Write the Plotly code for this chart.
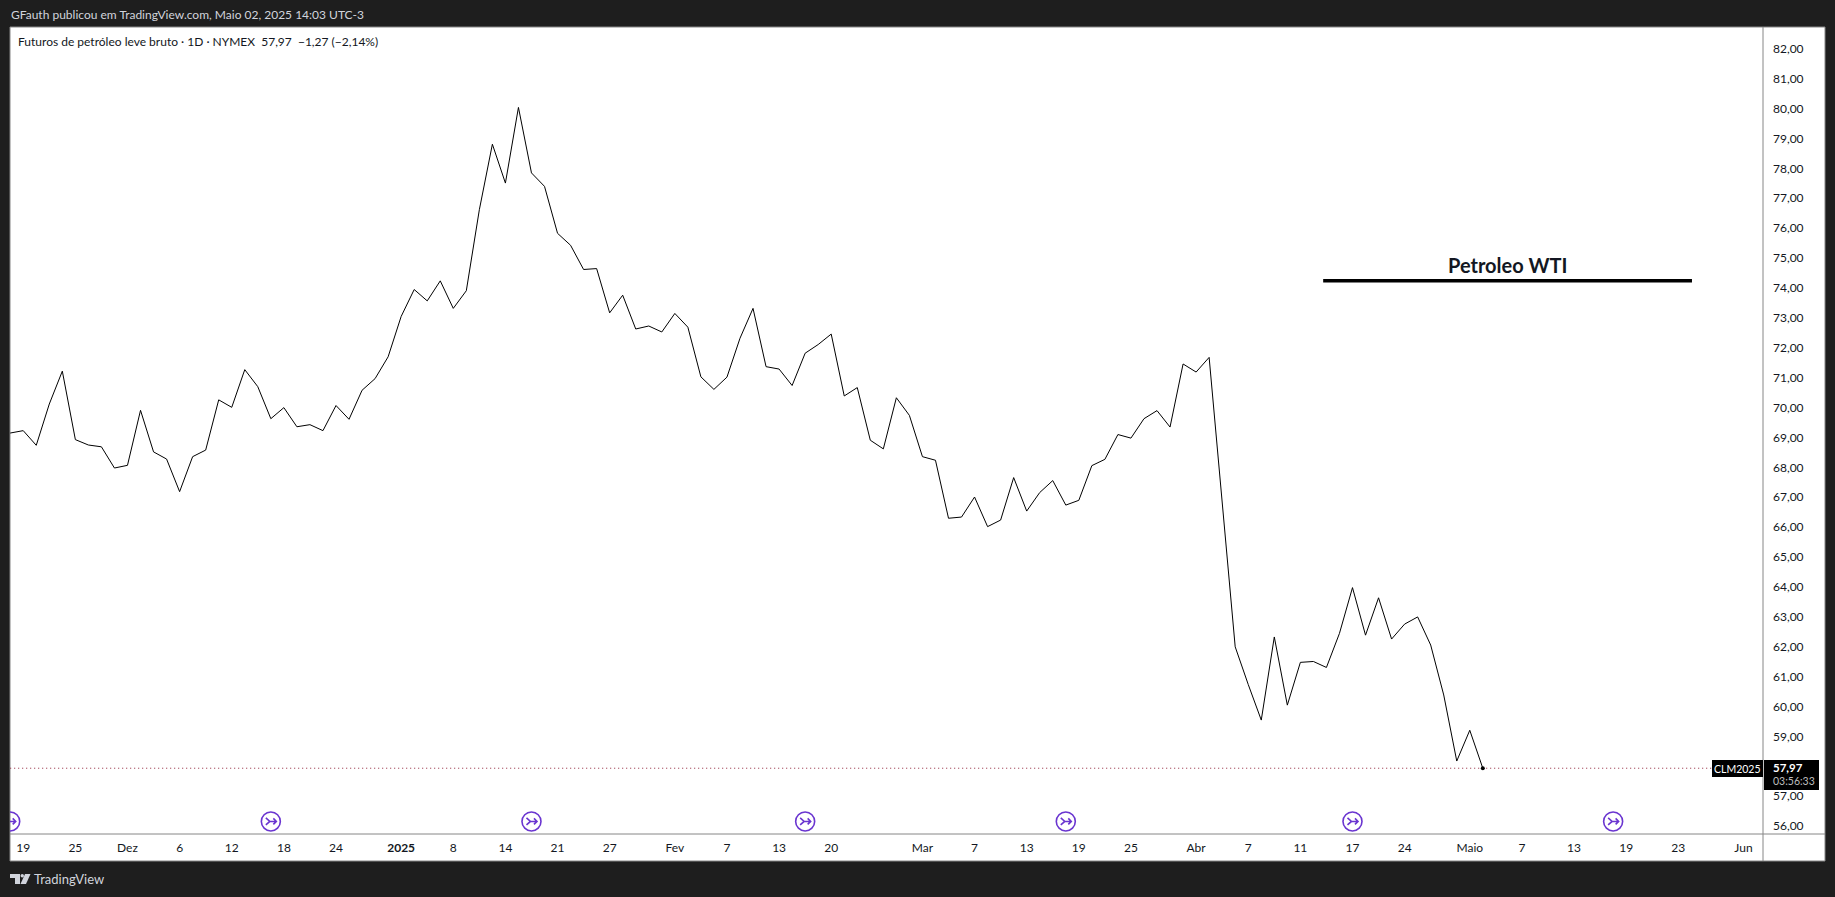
import plotly.graph_objects as go

# ---- data -------------------------------------------------------------
close_prices = [
    69.18, 69.26, 68.77, 70.15, 71.25, 68.96, 68.78, 68.72, 68.01, 68.10,
    69.94, 68.55, 68.31, 67.22, 68.39, 68.61, 70.29, 70.04, 71.30, 70.73,
    69.66, 70.03, 69.39, 69.46, 69.26, 70.10, 69.64, 70.61, 71.00, 71.73,
    73.08, 73.98, 73.60, 74.27, 73.35, 73.94, 76.65, 78.84, 77.54, 80.07,
    77.88, 77.43, 75.86, 75.46, 74.65, 74.68, 73.20, 73.79, 72.66, 72.76,
    72.56, 73.18, 72.72, 71.06, 70.64, 71.05, 72.35, 73.35, 71.40, 71.32,
    70.77, 71.85, 72.14, 72.49, 70.42, 70.70, 68.94, 68.65, 70.36, 69.77,
    68.39, 68.27, 66.33, 66.37, 67.04, 66.05, 66.27, 67.69, 66.57, 67.19,
    67.59, 66.77, 66.93, 68.09, 68.30, 69.13, 69.01, 69.66, 69.93, 69.38,
    71.49, 71.22, 71.71, 66.94, 62.03, 60.77, 59.58, 62.36, 60.08, 61.51,
    61.54, 61.34, 62.48, 64.01, 62.42, 63.67, 62.29, 62.79, 63.03, 62.09,
    60.42, 58.21, 59.24, 57.97,
]
bar_index = list(range(len(close_prices)))
last_price = 57.97

x_tick_bars = [1, 5, 9, 13, 17, 21, 25, 30, 34, 38, 42, 46, 51, 55, 59, 63, 70, 74,
               78, 82, 86, 91, 95, 99, 103, 107, 112, 116, 120, 124, 128, 133]
x_tick_labels = ["19", "25", "Dez", "6", "12", "18", "24", "<b>2025</b>", "8", "14",
                 "21", "27", "Fev", "7", "13", "20", "Mar", "7", "13", "19", "25",
                 "Abr", "7", "11", "17", "24", "Maio", "7", "13", "19", "23", "Jun"]
y_ticks = list(range(56, 83))

rollover_bars = [0, 20, 40, 61, 81, 103, 123]
rollover_level = 56.19

note_text = "Petroleo WTI"
note_line_bars = [100.75, 129.05]
note_line_level = 74.27
note_text_bar = 114.9
note_text_level = 74.8

header = "GFauth publicou em TradingView.com, Maio 02, 2025 14:03 UTC-3"
legend = "Futuros de petróleo leve bruto · 1D · NYMEX  57,97  −1,27 (−2,14%)"

# ---- style ------------------------------------------------------------
FONT = "Lato"
DARK = "#1e1e1e"
GRID = "#868686"
PURPLE = "#6a35d0"
W, H = 1835, 897
L, R, T, B = 10, 1825, 27, 861      # panel
AX, AY = 1763, 834                  # axis lines


def px(x):
    return (x - L) / (R - L)


def py(y):
    return 1 - (y - T) / (B - T)


fig = go.Figure()
fig.add_trace(go.Scatter(x=[bar_index[0], 134.5], y=[last_price, last_price], mode="lines",
                         line=dict(color="#8f2038", width=1, dash="1px 3px"),
                         hoverinfo="skip", showlegend=False))
fig.add_trace(go.Scatter(x=bar_index, y=close_prices, mode="lines",
                         line=dict(color="#000000", width=1), showlegend=False))
fig.add_trace(go.Scatter(x=[bar_index[-1]], y=[close_prices[-1]], mode="markers",
                         marker=dict(color="#000000", size=4), showlegend=False))
fig.add_trace(go.Scatter(x=note_line_bars, y=[note_line_level, note_line_level], mode="lines",
                         line=dict(color="#000000", width=3.5), showlegend=False))

shapes = [
    dict(type="rect", xref="paper", yref="paper", x0=0, x1=1, y0=0, y1=1,
         fillcolor="#ffffff", line=dict(color=GRID, width=1), layer="below"),
    dict(type="line", xref="paper", yref="paper", x0=px(AX), x1=px(AX), y0=0, y1=1,
         line=dict(color=GRID, width=1)),
    dict(type="line", xref="paper", yref="paper", x0=0, x1=1, y0=py(AY), y1=py(AY),
         line=dict(color=GRID, width=1)),
    dict(type="rect", xref="paper", yref="paper", x0=px(1712), x1=px(1763), y0=py(777), y1=py(760),
         fillcolor="#000000", line=dict(width=0)),
    dict(type="rect", xref="paper", yref="paper", x0=px(1764), x1=px(1819), y0=py(790), y1=py(760),
         fillcolor="#000000", line=dict(width=0)),
    # TradingView logo
    dict(type="path", xref="paper", yref="paper",
         path=(f"M {px(10)} {py(874)} L {px(20)} {py(874)} L {px(20)} {py(884)} L {px(15)} {py(884)} "
               f"L {px(15)} {py(878)} L {px(10)} {py(878)} Z"),
         fillcolor="#d1d4dc", line=dict(width=0)),
    dict(type="circle", xref="paper", yref="paper", x0=px(20.5), x1=px(24), y0=py(877.5), y1=py(874),
         fillcolor="#d1d4dc", line=dict(width=0)),
    dict(type="path", xref="paper", yref="paper",
         path=(f"M {px(25)} {py(874)} L {px(30.5)} {py(874)} L {px(26)} {py(884)} L {px(20.5)} {py(884)} Z"),
         fillcolor="#d1d4dc", line=dict(width=0)),
]
for b in rollover_bars:
    common = dict(xref="x", yref="y", xsizemode="pixel", ysizemode="pixel",
                  xanchor=b, yanchor=rollover_level)
    shapes.append(dict(type="circle", x0=-9.5, x1=9.5, y0=-9.5, y1=9.5,
                       line=dict(color=PURPLE, width=1.6), **common))
    shapes.append(dict(type="path", path="M -5 -3.5 L -1 0 L -5 3.5 M -2 0 L 5.5 0 M 2.5 -3 L 5.5 0 L 2.5 3",
                       line=dict(color=PURPLE, width=1.6), **common))


def note(text, x, y, size=12, color="#000000", anchor="left", **kw):
    return dict(text=text, xref="paper", yref="paper", x=px(x), y=py(y), showarrow=False,
                xanchor=anchor, yanchor="middle", font=dict(family=FONT, size=size, color=color), **kw)


annotations = [
    note(header, 9, 14, size=12, color="#d1d4dc"),
    note(legend, 16, 41.5, size=12, color="#131722"),
    note("TradingView", 32, 879, size=13, color="#d1d4dc"),
    note("CLM2025", 1737.5, 768.5, size=10.5, color="#ffffff", anchor="center"),
    note("<b>57,97</b>", 1771, 767.5, size=11.5, color="#ffffff"),
    note("03:56:33", 1771, 781, size=10.5, color="#bdbdbd"),
    dict(text=f"<b>{note_text}</b>", x=note_text_bar, y=note_text_level, xref="x", yref="y",
         showarrow=False, xanchor="center", yanchor="middle",
         font=dict(family=FONT, size=20, color="#131722")),
]

fig.update_layout(
    width=W, height=H, autosize=False,
    margin=dict(l=L, r=W - R, t=T, b=H - B, pad=0),
    paper_bgcolor=DARK, plot_bgcolor="#ffffff",
    separators=",.",
    showlegend=False,
    font=dict(family=FONT, size=12, color="#131722"),
    shapes=shapes, annotations=annotations,
    xaxis=dict(domain=[0, px(AX)], range=[-0.015, 134.5], tickmode="array",
               tickvals=x_tick_bars, ticktext=x_tick_labels, showgrid=False, zeroline=False,
               ticks="", showline=False, ticklabelstandoff=5,
               tickfont=dict(family=FONT, size=12, color="#131722")),
    yaxis=dict(domain=[py(AY), 1], range=[55.77, 82.76], side="right", anchor="x", tickmode="array",
               tickvals=y_ticks, tickformat=".2f", showgrid=False, zeroline=False,
               ticks="", showline=False, ticklabelstandoff=9, ticklabelshift=-1,
               tickfont=dict(family=FONT, size=12, color="#131722")),
)

fig.write_html("out.html", config=dict(displayModeBar=False),
               post_script="document.body.style.margin='0';document.body.style.background='#1e1e1e';document.documentElement.style.overflow='hidden';")
